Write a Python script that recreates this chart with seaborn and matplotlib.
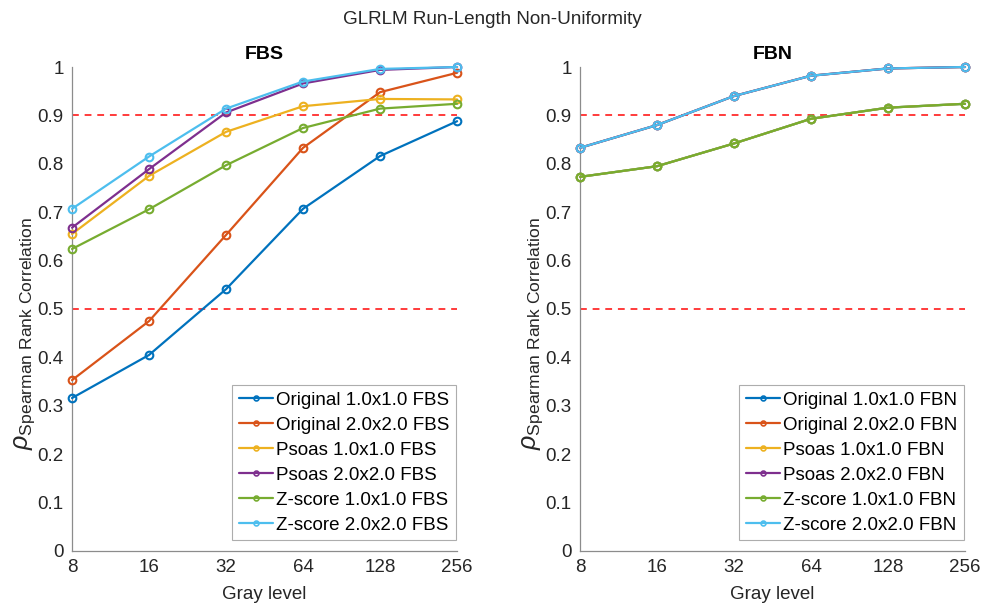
import numpy as np
import pandas as pd
import matplotlib
matplotlib.use("Agg")
import matplotlib.pyplot as plt
from matplotlib.lines import Line2D
import seaborn as sns

# Gray levels on the x axis
gray_levels = [8, 16, 32, 64, 128, 256]
tick_labels = ["8", "16", "32", "64", "128", "256"]

# FBS (fixed bin size) correlations
fbs_original_1 = [0.316, 0.405, 0.541, 0.707, 0.816, 0.888]
fbs_original_2 = [0.353, 0.475, 0.653, 0.833, 0.948, 0.988]
fbs_psoas_1 = [0.655, 0.775, 0.866, 0.919, 0.934, 0.933]
fbs_psoas_2 = [0.668, 0.789, 0.906, 0.966, 0.994, 1.000]
fbs_zscore_1 = [0.624, 0.706, 0.797, 0.874, 0.914, 0.924]
fbs_zscore_2 = [0.707, 0.815, 0.914, 0.970, 0.996, 1.000]

# FBN (fixed bin number) correlations: all normalisations coincide
fbn_res_1 = [0.773, 0.795, 0.842, 0.893, 0.916, 0.924]
fbn_res_2 = [0.833, 0.880, 0.940, 0.982, 0.997, 1.000]
fbn_original_1 = fbn_res_1
fbn_original_2 = fbn_res_2
fbn_psoas_1 = fbn_res_1
fbn_psoas_2 = fbn_res_2
fbn_zscore_1 = fbn_res_1
fbn_zscore_2 = fbn_res_2

names = ["Original 1.0x1.0", "Original 2.0x2.0", "Psoas 1.0x1.0",
         "Psoas 2.0x2.0", "Z-score 1.0x1.0", "Z-score 2.0x2.0"]
colors = ["#0072BD", "#D95319", "#EDB120", "#7E2F8E", "#77AC30", "#4DBEEE"]
thresholds = [0.5, 0.9]

fbs_series = [fbs_original_1, fbs_original_2, fbs_psoas_1,
              fbs_psoas_2, fbs_zscore_1, fbs_zscore_2]
fbn_series = [fbn_original_1, fbn_original_2, fbn_psoas_1,
              fbn_psoas_2, fbn_zscore_1, fbn_zscore_2]


def long_table(series, suffix):
    rows = []
    for name, vals in zip(names, series):
        for g, v in zip(gray_levels, vals):
            rows.append({"gray": g, "rho": v, "series": f"{name} {suffix}"})
    return pd.DataFrame(rows)


sns.set_style("white")
plt.rcParams["font.family"] = ["Liberation Sans", "DejaVu Sans"]
plt.rcParams["mathtext.fontset"] = "custom"
plt.rcParams["mathtext.rm"] = "Liberation Sans"
plt.rcParams["mathtext.it"] = "Liberation Sans:italic"

fig = plt.figure(figsize=(9.84, 6.08), dpi=100)
ax_l = fig.add_axes([0.0732, 0.0938, 0.3913, 0.796])
ax_r = fig.add_axes([0.5894, 0.0938, 0.3913, 0.796])

text_col = "#262626"
spine_col = "#8c8c8c"
fs = 13.5

for ax, series, suffix in [(ax_l, fbs_series, "FBS"), (ax_r, fbn_series, "FBN")]:
    df = long_table(series, suffix)
    order = [f"{n} {suffix}" for n in names]
    for y in thresholds:
        ax.axhline(y, color="#ff3b3b", linestyle=(0, (3.5, 3)), linewidth=1.4, zorder=1)
    sns.lineplot(data=df, x="gray", y="rho", hue="series", hue_order=order,
                 palette=colors, marker="o", markersize=5.5,
                 markerfacecolor="none", markeredgewidth=1.5,
                 linewidth=1.6, ax=ax, legend=False, zorder=3)
    for ln in ax.get_lines():
        ln.set_clip_on(False)
    for ln, c in zip(ax.get_lines()[len(thresholds):], colors):
        ln.set_markeredgecolor(c)

    ax.set_xscale("log", base=2)
    ax.set_xlim(8, 256)
    ax.set_ylim(0, 1)
    ax.set_xticks(gray_levels)
    ax.set_xticklabels(tick_labels)
    ax.minorticks_off()
    ax.set_yticks(np.arange(0, 1.01, 0.1))
    ax.set_yticklabels(["0", "0.1", "0.2", "0.3", "0.4", "0.5",
                        "0.6", "0.7", "0.8", "0.9", "1"])
    ax.tick_params(direction="in", length=4, width=0.8, colors=spine_col,
                   labelcolor=text_col, labelsize=fs, pad=6)
    for side in ["top", "right"]:
        ax.spines[side].set_visible(False)
    for side in ["left", "bottom"]:
        ax.spines[side].set_color(spine_col)
        ax.spines[side].set_linewidth(0.9)
    ax.set_xlabel("Gray level", fontsize=fs, color=text_col, labelpad=7)
    ax.set_ylabel(r"$\rho_{\mathrm{Spearman\ Rank\ Correlation}}$",
                  fontsize=18, color=text_col)
    ax.yaxis.set_label_coords(-0.092, 0.45)
    ax.set_title(suffix, fontsize=14, fontweight="bold", color="black", pad=6)

    handles = [Line2D([0], [0], color=c, linewidth=1.6, marker="o",
                      markersize=3.5, markerfacecolor="none",
                      markeredgewidth=1.2, markeredgecolor=c) for c in colors]
    leg = ax.legend(handles, order, loc="lower right",
                    bbox_to_anchor=(0.998, 0.022), fontsize=fs,
                    frameon=True, fancybox=False, handlelength=1.8,
                    handletextpad=0.2, borderpad=0.35, labelspacing=0.42,
                    borderaxespad=0)
    leg.get_frame().set_edgecolor("#999999")
    leg.get_frame().set_linewidth(0.8)
    for t in leg.get_texts():
        t.set_color("black")

fig.suptitle("GLRLM Run-Length Non-Uniformity", fontsize=13.6, color=text_col, y=0.982)
fig.savefig("out.png", dpi=100)
